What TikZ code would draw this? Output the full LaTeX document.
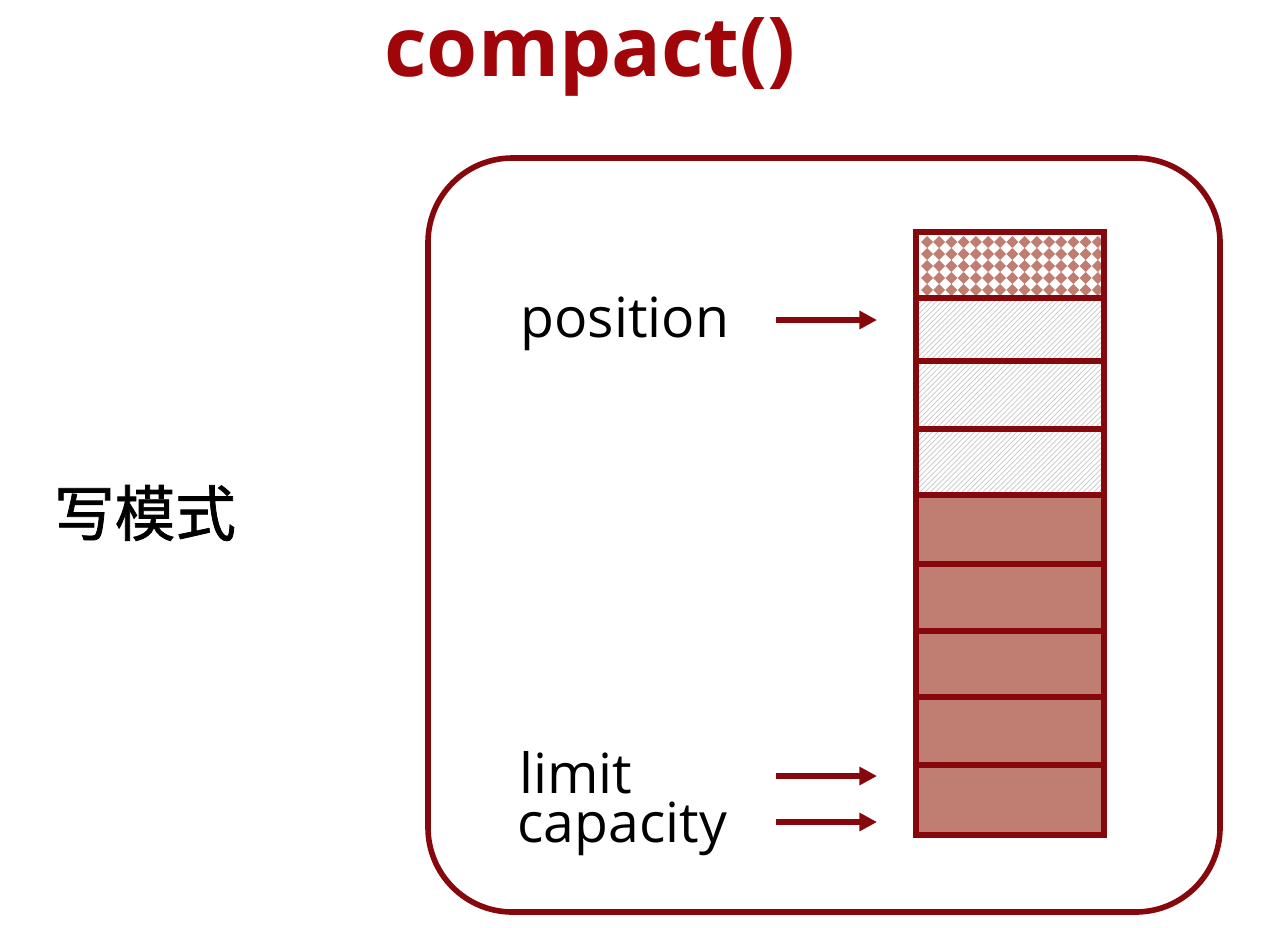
\documentclass[tikz,border=0pt]{standalone}
\usepackage{fontspec}
\setmainfont{Open Sans}
\newfontfamily\cjk[FakeBold=1.2]{Noto Sans CJK SC}
\usetikzlibrary{patterns,arrows.meta}
\definecolor{dred}{RGB}{135,8,12}
\definecolor{titlered}{RGB}{160,5,10}
\definecolor{cellfill}{RGB}{192,125,113}
\definecolor{dotc}{RGB}{192,125,113}
\begin{document}
\begin{tikzpicture}[x=0.02cm,y=-0.02cm,
  lbl/.style={font=\fontsize{31.5}{31.5}\selectfont, inner sep=0pt, anchor=base west},
  arr/.style={draw=dred, line width=3.2pt, -{Triangle[length=10pt,width=10pt]}},
  sep/.style={draw=dred, line width=3.8pt},
  hatch/.style={pattern=north east lines, pattern color=black!22},
  solid cell/.style={fill=cellfill}]
\useasboundingbox (0,0) rectangle (1264,927);
% title
\node[font=\fontsize{47}{47}\selectfont\bfseries, text=titlered, inner sep=0pt, anchor=base] (title) at (590,76) {compact()};
% outer box
\draw[dred, line width=3.2pt, rounded corners=48pt] (428,158) rectangle (1220,912);
\node (outer) at (824,535) {};
% side label
\node[font=\cjk\fontsize{34.5}{34.5}\selectfont, inner sep=0pt] (mode) at (145,513) {写模式};
% cells
\fill[white] (916,232) rectangle (1104,298);
\begin{scope}
  \clip (916,232) rectangle (1104,298);
  \foreach \i in {0,...,15}{
    \foreach \j in {0,...,5}{
      \fill[dotc] ({927+\i*12.2},{242+\j*12}) +(0,-6) -- +(6,0) -- +(0,6) -- +(-6,0) -- cycle;
    }
  }
\end{scope}
\fill[hatch] (916,298) rectangle (1104,495);
\fill[solid cell] (916,495) rectangle (1104,835);
\foreach \yy in {298,361,429,495,564,631,697,765}{
  \draw[sep] (916,\yy) -- (1104,\yy);
}
\draw[dred, line width=3.8pt] (916,232) rectangle (1104,835);
\node (column) at (1010,533) {};
% labels and arrows
\node[lbl] (pos) at (520,337) {position};
\node[lbl, text depth=0pt] (lim) at (519,793) {limit};
\node[lbl, text height=0.62em] (cap) at (517,842) {capacity};
\coordinate (pa) at (776,320);
\coordinate (pb) at (877,320);
\coordinate (la) at (776,776);
\coordinate (lb) at (877,776);
\coordinate (ca) at (776,822);
\coordinate (cb) at (877,822);
\draw[arr] (pa) -- (pb);
\draw[arr] (la) -- (lb);
\draw[arr] (ca) -- (cb);
\end{tikzpicture}
\end{document}
